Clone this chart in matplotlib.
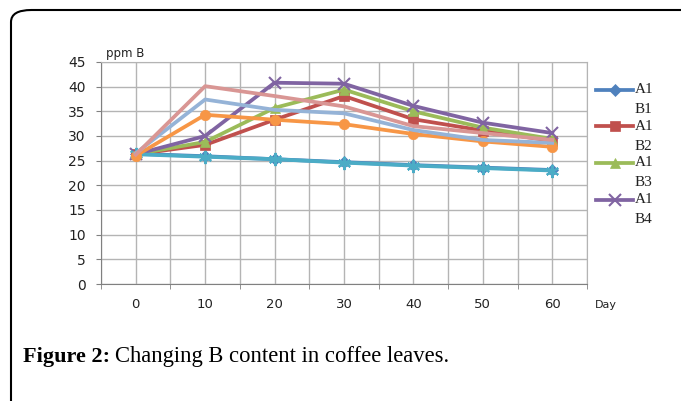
import matplotlib.pyplot as plt
from matplotlib.lines import Line2D
from matplotlib.patches import FancyBboxPatch
from matplotlib.ticker import MultipleLocator

days = ["0", "10", "20", "30", "40", "50", "60"]
a1b1 = [26.4, 25.9, 25.3, 24.7, 24.1, 23.6, 23.1]
a1b2 = [26.3, 28.2, 33.3, 38.1, 33.4, 31.1, 29.0]
a1b3 = [26.3, 28.8, 35.7, 39.4, 35.0, 31.7, 29.4]
a1b4 = [26.3, 30.0, 40.8, 40.6, 36.1, 32.7, 30.6]
a2b1 = [26.3, 25.8, 25.3, 24.6, 24.0, 23.5, 23.0]
a2b2 = [26.0, 34.3, 33.3, 32.4, 30.4, 28.9, 27.8]
a2b3 = [26.5, 37.4, 35.3, 34.6, 31.2, 29.2, 28.6]
a2b4 = [26.2, 40.1, 38.1, 36.0, 32.0, 30.6, 29.2]

series = [
    ("A1\nB1", a1b1, "#4F81BD", "D", 6),
    ("A1\nB2", a1b2, "#C0504D", "s", 7),
    ("A1\nB3", a1b3, "#9BBB59", "^", 7.5),
    ("A1\nB4", a1b4, "#8064A2", "x", 8.5),
    ("A2\nB1", a2b1, "#4BACC6", (6, 2, 0), 9.5),
    ("A2\nB2", a2b2, "#F79646", "o", 7.5),
    ("A2\nB3", a2b3, "#95B3D7", None, 0),
    ("A2\nB4", a2b4, "#D99694", None, 0),
]

W, H = 681, 401
fig = plt.figure(figsize=(W / 100, H / 100), dpi=100)
fig.patch.set_facecolor("white")

# rounded frame running off the right and bottom edges
frame = FancyBboxPatch((11 / W, -0.1), 1.2, 1 - 10 / H + 0.1,
                       boxstyle="round,pad=0,rounding_size=0.03",
                       transform=fig.transFigure, facecolor="none",
                       edgecolor="black", linewidth=1.5)
fig.add_artist(frame)

ax = fig.add_axes([101 / W, 1 - 284 / H, (587 - 101) / W, (284 - 62) / H])
x = list(range(len(days)))
for label, vals, col, mk, ms in series:
    ax.plot(x, vals, color=col, lw=2.7, marker=mk, markersize=ms,
            markeredgewidth=1.5 if mk in ("x", (6, 2, 0)) else 0.5,
            markeredgecolor=col, markerfacecolor=col)

ax.set_xlim(-0.5, 6.5)
ax.set_ylim(0, 45)
ax.set_xticks(x)
ax.set_xticklabels(days)
ax.set_xticks([-0.5 + i for i in range(8)], minor=True)
ax.yaxis.set_major_locator(MultipleLocator(5))
ax.grid(True, which="both", color="#B4B4B4", lw=1)
ax.set_axisbelow(True)
for s in ("top", "right"):
    ax.spines[s].set_color("#B4B4B4")
for s in ("left", "bottom"):
    ax.spines[s].set_color("#808080")
ax.tick_params(axis="x", which="major", length=0, pad=10, labelsize=9.5,
               labelcolor="#222222")
ax.tick_params(axis="x", which="minor", length=3.6, color="#808080")
ax.tick_params(axis="y", length=3.6, color="#808080", pad=7.5, labelsize=10,
               labelcolor="#222222")

fig.text(106 / W, 1 - 54 / H, "ppm B", fontsize=8.5, color="#222222",
         va="center", ha="left")
fig.text(595 / W, 1 - 305 / H, "Day", fontsize=8, color="#222222",
         va="center", ha="left")

# legend (only the first four entries fit)
for i, (label, vals, col, mk, ms) in enumerate(series[:4]):
    yy = 1 - (89.5 + i * 36.7) / H
    fig.add_artist(Line2D([596 / W, 633 / W], [yy, yy], transform=fig.transFigure,
                          color=col, lw=2.7))
    fig.add_artist(Line2D([614.5 / W], [yy], transform=fig.transFigure,
                          color=col, marker=mk, markersize=ms,
                          markeredgewidth=1.5 if mk == "x" else 0.5,
                          markeredgecolor=col, markerfacecolor=col))
    top, bot = label.split("\n")
    fig.text(635 / W, yy, top, fontsize=11, family="Liberation Serif",
             va="center", ha="left", color="#222222")
    fig.text(635 / W, yy - 20 / H, bot, fontsize=11, family="Liberation Serif",
             va="center", ha="left", color="#222222")

fig.text(23 / W, 1 - 362 / H, "Figure 2:", fontsize=16, fontweight="bold",
         family="Liberation Serif", va="baseline", ha="left")
fig.text(115 / W, 1 - 362 / H, "Changing B content in coffee leaves.",
         fontsize=16.3, family="Liberation Serif", va="baseline", ha="left")

fig.savefig("out.png", dpi=100)
